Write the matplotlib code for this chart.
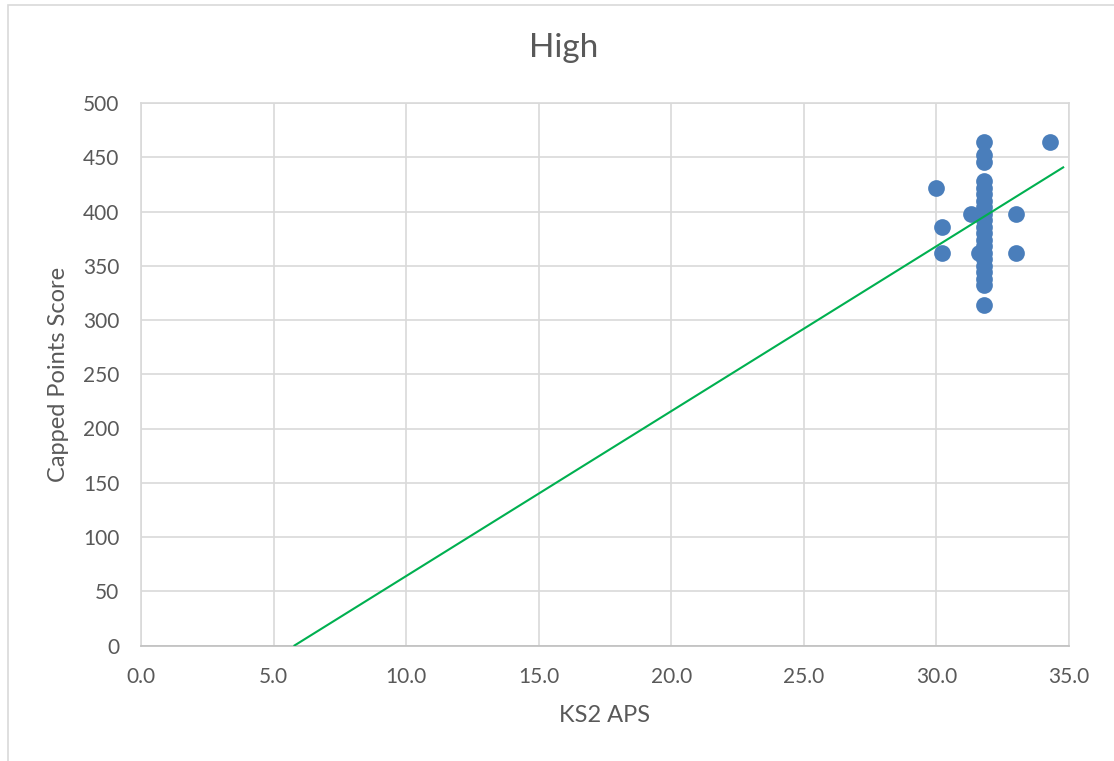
import matplotlib
matplotlib.use("Agg")
import matplotlib.pyplot as plt
from matplotlib.patches import Rectangle
import numpy as np

plt.rcParams['font.family'] = ['Lato', 'DejaVu Sans']

# Data
col_y = [464, 452, 446, 428, 422, 416, 410, 404, 398, 392, 386, 380, 374, 368,
         362, 356, 350, 344, 338, 332, 314]
ks2_aps = [31.8] * len(col_y) + [30.0, 30.2, 30.2, 31.3, 31.6, 33.0, 33.0, 34.3]
capped_points = col_y + [422, 386, 362, 398, 362, 398, 362, 464]

trend_slope = 15.2
trend_intercept = -88.0
trend_x_range = [5.79, 34.78]

x_ticks = [0, 5, 10, 15, 20, 25, 30, 35]
y_ticks = [0, 50, 100, 150, 200, 250, 300, 350, 400, 450, 500]

W, H = 1114, 761
fig = plt.figure(figsize=(W / 100, H / 100), dpi=100)
fig.patches.append(Rectangle((8 / W, -0.05), 1.2, (H - 5) / H + 0.05, transform=fig.transFigure,
                             fill=False, edgecolor='#D9D9D9', linewidth=1.2))

ax_left, ax_right, ax_top, ax_bottom = 141, 1069, 103, 645.5
ax = fig.add_axes([ax_left / W, (H - ax_bottom) / H, (ax_right - ax_left) / W,
                   (ax_bottom - ax_top) / H])
ax.set_xlim(0, 35)
ax.set_ylim(0, 500)
ax.set_xticks(x_ticks)
ax.set_yticks(y_ticks)
ax.set_xticklabels([f"{v:.1f}" for v in x_ticks])
ax.set_yticklabels([str(v) for v in y_ticks])
ax.grid(True, color='#D9D9D9', linewidth=1.2)
ax.set_axisbelow(True)
for s in ['top', 'right', 'left']:
    ax.spines[s].set_color('#D9D9D9')
    ax.spines[s].set_linewidth(1.2)
ax.spines['bottom'].set_color('#BFBFBF')
ax.spines['bottom'].set_linewidth(1.2)
ax.tick_params(axis='y', length=0, labelsize=15, colors='#595959', pad=15.5)
ax.tick_params(axis='x', length=0, labelsize=15, colors='#595959', pad=15.5)

ax.scatter(ks2_aps, capped_points, s=145, color='#4A7EBB', zorder=3, linewidths=0)
tx = np.array(trend_x_range)
ax.plot(tx, trend_slope * tx + trend_intercept, color='#00B050', linewidth=1.5, zorder=4)

ax.set_xlabel("KS2 APS", fontsize=17, color='#595959')
ax.set_ylabel("Capped Points Score", fontsize=17, color='#595959')
ax.xaxis.label.set_va('center')
ax.yaxis.set_label_coords((59 - ax_left) / (ax_right - ax_left), 0.5)
ax.yaxis.label.set_va('center')
ax.xaxis.set_label_coords((605 - ax_left) / (ax_right - ax_left),
                          (ax_bottom - 716) / (ax_bottom - ax_top))
fig.text(564 / W, 1 - 48 / H, "High", fontsize=24, color='#595959',
         ha='center', va='center')

fig.savefig("out.png", dpi=100)
